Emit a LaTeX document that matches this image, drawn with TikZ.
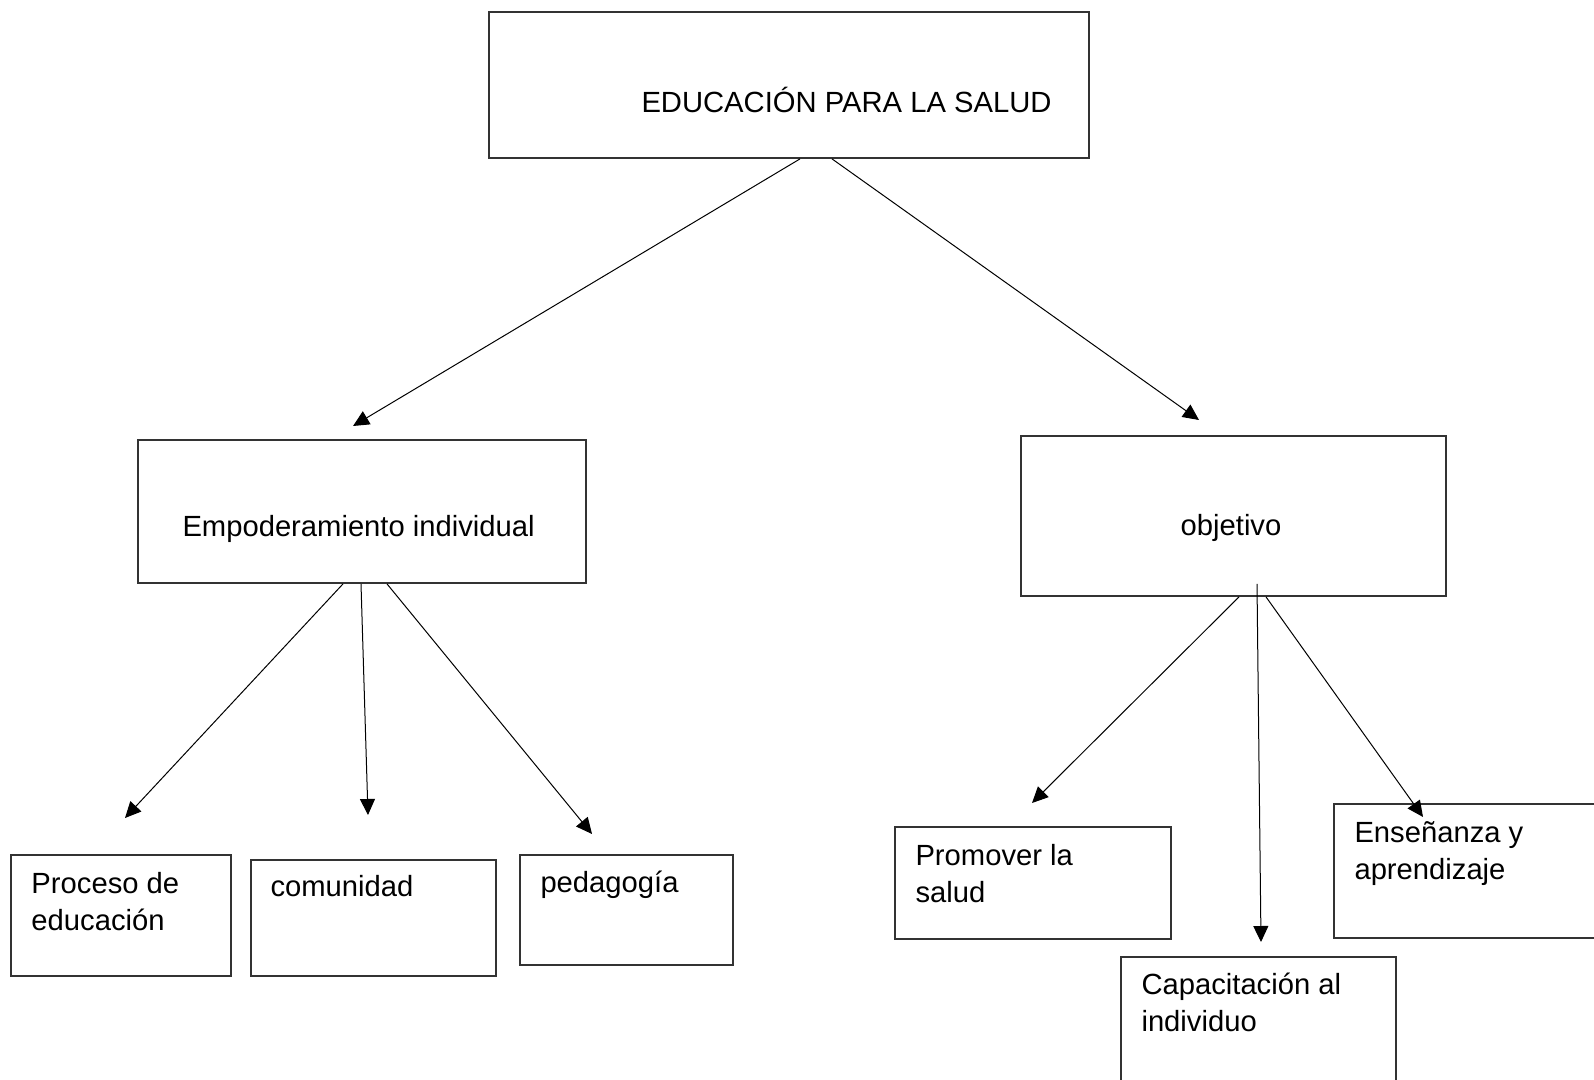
\documentclass[tikz,border=0pt]{standalone}
\usepackage{fontspec}
\setmainfont{Liberation Sans}
\usetikzlibrary{positioning,arrows.meta}
\tikzset{
    concept box/.style={rectangle, draw=black!80, line width=0.9pt, inner sep=0pt},
    concept text/.style={inner sep=0pt, align=left, font=\fontsize{14.6pt}{18.5pt}\selectfont},
    link arrow/.style={-{Triangle[length=8pt, width=7.5pt]}, line width=0.5pt, black}
}

\begin{document}
\begin{tikzpicture}[x=0.5pt, y=-0.5pt]
    \useasboundingbox (0,0) rectangle (1594,1080);
    \clip (0,0) rectangle (1594,1080);

    % Main concept
    \node[concept box, minimum width=300pt, minimum height=73pt] (salud) at (789,85) {};
    \node[concept text, anchor=base west] (salud-t) at ([shift={(153,101)}]salud.north west) {EDUCACIÓN PARA LA SALUD};

    % Second level
    \node[concept box, minimum width=224pt, minimum height=71.5pt] (empo) at (362,511.5) {};
    \node[concept text, anchor=base west] (empo-t) at ([shift={(45,97)}]empo.north west) {Empoderamiento individual};
    \node[concept box, minimum width=212.5pt, minimum height=80pt] (obj) at (1233.5,516) {};
    \node[concept text, anchor=base] (obj-t) at (1231,535) {objetivo};

    % Third level, left branch (base = last line)
    \node[concept box, minimum width=110pt, minimum height=60.5pt] (proceso) at (121,915.5) {};
    \node[concept text, anchor=base west] (proceso-t) at ([shift={(21,76)}]proceso.north west) {Proceso de\\educación};
    \node[concept box, minimum width=122.5pt, minimum height=58pt] (comunidad) at (373.5,918) {};
    \node[concept text, anchor=base west] (comunidad-t) at ([shift={(20,37)}]comunidad.north west) {comunidad};
    \node[concept box, minimum width=106.5pt, minimum height=55pt] (pedagogia) at (626.5,910) {};
    \node[concept text, anchor=base west] (pedagogia-t) at ([shift={(21,38)}]pedagogia.north west) {pedagogía};

    % Third level, right branch
    \node[concept box, minimum width=138pt, minimum height=56pt] (promover) at (1033,883) {};
    \node[concept text, anchor=base west] (promover-t) at ([shift={(21,76)}]promover.north west) {Promover la\\salud};
    \node[concept box, minimum width=133pt, minimum height=67pt] (ensenanza) at (1467,871) {};
    \node[concept text, anchor=base west] (ensenanza-t) at ([shift={(21,76)}]ensenanza.north west) {Enseñanza y\\aprendizaje};
    \node[concept box, minimum width=137.5pt, minimum height=66.5pt] (capacitacion) at (1258.5,1023.5) {};
    \node[concept text, anchor=base west] (capacitacion-t) at ([shift={(21,75)}]capacitacion.north west) {Capacitación al\\individuo};

    % Arrow tips
    \coordinate (tip-empo) at (353,426);
    \coordinate (tip-obj) at (1199,420);
    \coordinate (tip-proceso) at (125,818);
    \coordinate (tip-comunidad) at (368,815);
    \coordinate (tip-pedagogia) at (592,834);
    \coordinate (tip-promover) at (1032,803);
    \coordinate (tip-capacitacion) at (1261,942);
    \coordinate (tip-ensenanza) at (1423,817);

    % Links
    \draw[link arrow] ([shift={(11,0)}]salud.south) -- (tip-empo);
    \draw[link arrow] ([shift={(43,0)}]salud.south) -- (tip-obj);
    \draw[link arrow] ([shift={(-19,0)}]empo.south) -- (tip-proceso);
    \draw[link arrow] ([shift={(-1,0)}]empo.south) -- (tip-comunidad);
    \draw[link arrow] ([shift={(25,0)}]empo.south) -- (tip-pedagogia);
    \draw[link arrow] ([shift={(5.5,0)}]obj.south) -- (tip-promover);
    \draw[link arrow] ([shift={(23.5,-13)}]obj.south) -- (tip-capacitacion);
    \draw[link arrow] ([shift={(32.5,0)}]obj.south) -- (tip-ensenanza);
\end{tikzpicture}
\end{document}
